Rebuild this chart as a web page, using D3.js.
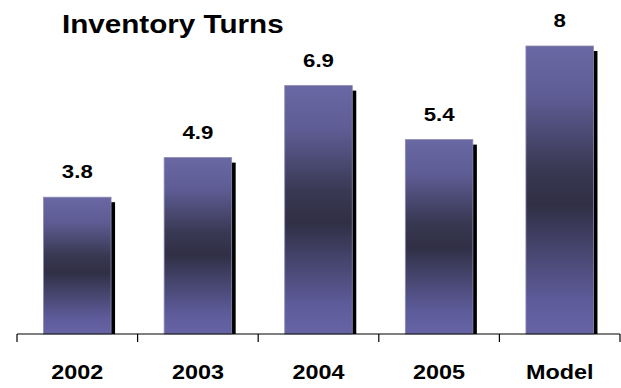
<!DOCTYPE html>
<html>
<head>
<meta charset="utf-8">
<script src="https://cdn.jsdelivr.net/npm/d3@7"></script>
<style>
  html, body { margin: 0; padding: 0; background: #fff; }
  svg { display: block; font-family: "Liberation Sans", Arial, sans-serif; font-weight: bold; }
</style>
</head>
<body>
<svg id="chart" width="621" height="388"></svg>
<script>
// Inventory turns per year, plus the model target
const categories = ["2002", "2003", "2004", "2005", "Model"];
const turns = [3.8, 4.9, 6.9, 5.4, 8];
const chartTitle = "Inventory Turns";

const svg = d3.select("#chart");

const x = d3.scaleBand().domain(categories).range([17, 620]).padding(0);
const y = d3.scaleLinear().domain([0, 8]).range([334, 46]);

const barW = x.bandwidth() * 0.56;
const wide = 1.17; // the lettering is set slightly wide

// Vertical gradient: lighter purple at the ends, dark band in the middle
const defs = svg.append("defs");
const grad = defs.append("linearGradient")
  .attr("id", "barFill").attr("x1", 0).attr("y1", 0).attr("x2", 0).attr("y2", 1);
[[0, "#6a68a4"], [0.18, "#5e5c94"], [0.42, "#3a3954"], [0.55, "#302f45"], [0.7, "#45446c"], [0.88, "#5d5b99"], [1, "#6664a4"]]
  .forEach(([o, c]) => grad.append("stop").attr("offset", o).attr("stop-color", c));

const bars = svg.append("g").selectAll("g").data(categories).join("g");

// drop shadow on the right side
bars.append("rect")
  .attr("x", d => x(d) + (x.bandwidth() + barW) / 2 - 1)
  .attr("y", (d, i) => y(turns[i]) + 5)
  .attr("width", 5)
  .attr("height", (d, i) => y(0) - y(turns[i]) - 5)
  .attr("fill", "#000");

bars.append("rect")
  .attr("x", d => x(d) + (x.bandwidth() - barW) / 2)
  .attr("y", (d, i) => y(turns[i]))
  .attr("width", barW)
  .attr("height", (d, i) => y(0) - y(turns[i]))
  .attr("fill", "url(#barFill)")
  .attr("stroke", "#8c8ab0")
  .attr("stroke-width", 0.8);

// value labels
bars.append("text")
  .attr("transform", (d, i) => `translate(${x(d) + x.bandwidth() / 2},${y(turns[i]) - 19}) scale(${wide},1)`)
  .attr("text-anchor", "middle")
  .attr("font-size", 19)
  .attr("fill", "#000")
  .text((d, i) => turns[i]);

// category axis: baseline with ticks at band boundaries
const axisG = svg.append("g").attr("transform", `translate(0,${y(0)})`);
axisG.append("line")
  .attr("x1", x.range()[0]).attr("x2", x.range()[1])
  .attr("y1", 0).attr("y2", 0)
  .attr("stroke", "#000").attr("stroke-width", 1.2);
const boundaries = categories.map(c => x(c)).concat([x.range()[1]]);
axisG.selectAll("line.tick").data(boundaries).join("line")
  .attr("class", "tick")
  .attr("x1", d => d).attr("x2", d => d)
  .attr("y1", 0).attr("y2", 8)
  .attr("stroke", "#000").attr("stroke-width", 1.2);
axisG.selectAll("text").data(categories).join("text")
  .attr("transform", d => `translate(${x(d) + x.bandwidth() / 2},45) scale(${wide},1)`)
  .attr("text-anchor", "middle")
  .attr("font-size", 20)
  .attr("fill", "#000")
  .text(d => d);

svg.append("text")
  .attr("transform", `translate(62,33) scale(1.14,1)`)
  .attr("font-size", 26)
  .attr("fill", "#000")
  .text(chartTitle);
</script>
</body>
</html>
